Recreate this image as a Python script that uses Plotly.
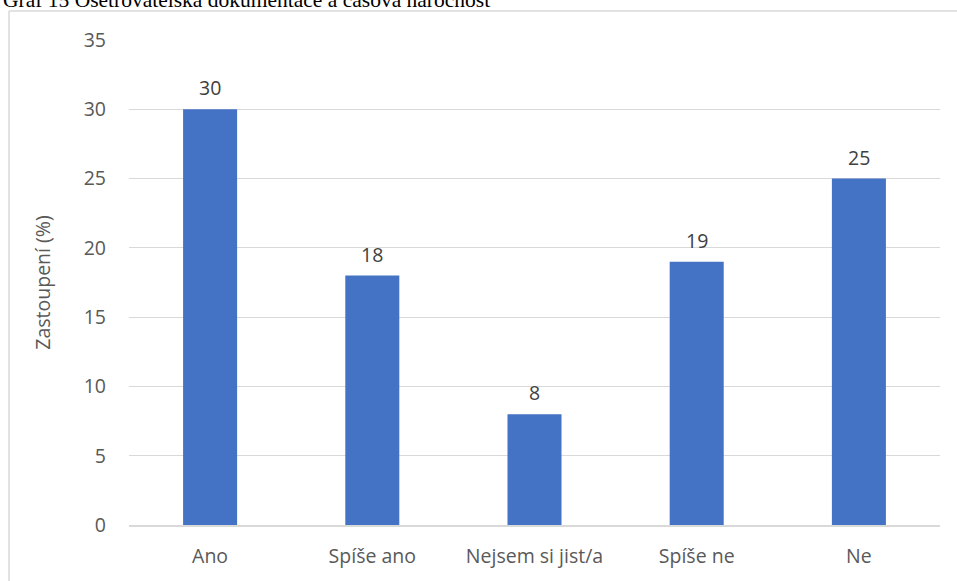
import plotly.graph_objects as go

categories = ["Ano", "Spíše ano", "Nejsem si jist/a", "Spíše ne", "Ne"]
values = [30, 18, 8, 19, 25]
y_ticks = [0, 5, 10, 15, 20, 25, 30, 35]
title_text = "Graf 15 Ošetřovatelská dokumentace a časová náročnost"
y_title = "Zastoupení (%)"

W, H = 957, 581
L, R, T, B = 129, 17, 40, 56
pw, ph = W - L - R, H - T - B

def px_to_paper_x(px):
    return (px - L) / pw

def px_to_paper_y(py):
    return (H - B - py) / ph

FONT = "Open Sans"
TICK_COLOR = "#595959"

fig = go.Figure(go.Bar(
    x=categories, y=values,
    marker=dict(color="#4472C4", line=dict(width=0)),
    hoverinfo="x+y",
))

for c, v in zip(categories, values):
    fig.add_annotation(x=c, y=v, text=str(v), showarrow=False,
                       xanchor="center", yanchor="bottom", yshift=6,
                       font=dict(family=FONT, size=19.5, color="#404040"))

fig.update_layout(
    width=W, height=H,
    margin=dict(l=L, r=R, t=T, b=B),
    paper_bgcolor="white", plot_bgcolor="white",
    bargap=0.667,
    showlegend=False,
    xaxis=dict(showgrid=False, showline=True, linecolor="#d9d9d9", linewidth=1.5,
               ticks="", ticklabelstandoff=13,
               tickfont=dict(family=FONT, size=19.5, color=TICK_COLOR)),
    yaxis=dict(range=[0, 35], tickvals=y_ticks, showgrid=True, gridcolor="#d9d9d9",
               gridwidth=1.3, zeroline=False, showline=False, ticks="",
               tickfont=dict(family=FONT, size=19.5, color=TICK_COLOR),
               ticklabelstandoff=22,
               title=dict(text=y_title, font=dict(family=FONT, size=19.5, color=TICK_COLOR),
                          standoff=27)),
    font=dict(family=FONT),
)

fig.add_shape(type="line", xref="paper", yref="paper",
              x0=px_to_paper_x(9), x1=px_to_paper_x(9),
              y0=px_to_paper_y(11), y1=px_to_paper_y(600),
              line=dict(color="#d9d9d9", width=1.5))
fig.add_shape(type="line", xref="paper", yref="paper",
              x0=px_to_paper_x(9), x1=px_to_paper_x(1000),
              y0=px_to_paper_y(11), y1=px_to_paper_y(11),
              line=dict(color="#d9d9d9", width=1.5))

fig.add_annotation(text=title_text, xref="paper", yref="paper",
                   x=px_to_paper_x(1), y=px_to_paper_y(14),
                   xanchor="left", yanchor="bottom", showarrow=False,
                   font=dict(family="Liberation Serif", size=21.5, color="black"))

fig.write_html("out.html", config={"displayModeBar": False},
               post_script="document.body.style.margin='0px';")
